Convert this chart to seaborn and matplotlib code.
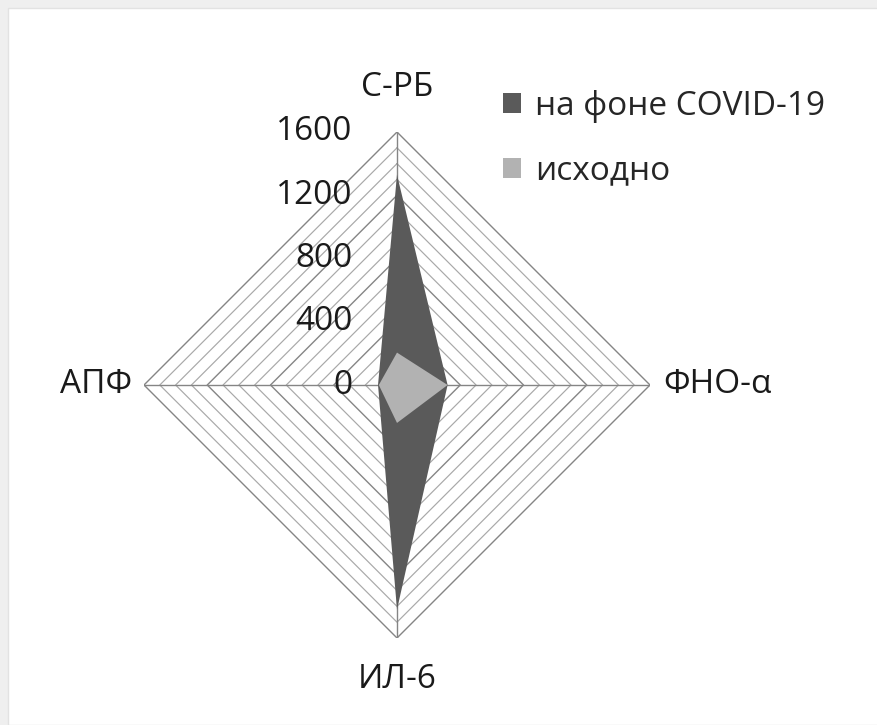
import numpy as np
import matplotlib
matplotlib.use("Agg")
import matplotlib.pyplot as plt
import seaborn as sns

# Indicators on the radar spokes (clockwise from the top)
categories = ["С-РБ", "ФНО-α", "ИЛ-6", "АПФ"]
covid_values = [1330, 320, 1420, 120]
baseline_values = [205, 320, 240, 115]
series_names = ["на фоне COVID-19", "исходно"]
tick_values = [0, 400, 800, 1200, 1600]
ring_values = list(range(100, 1700, 100))

sns.set_theme(style="white")
plt.rcParams["font.family"] = ["Open Sans", "DejaVu Sans"]

dark = "#5a5a5a"
light = "#b2b2b2"
grid_minor = "#a8a8a8"
grid_major = "#858585"
text_col = "#1a1a1a"
fs = 24

W, H = 877, 725
fig = plt.figure(figsize=(W / 100, H / 100), dpi=100)
fig.patch.set_facecolor("#efefef")
fig.patches.append(plt.Rectangle((8 / W, 0), 1, 1 - 8 / H, transform=fig.transFigure,
                                 facecolor="white", edgecolor="#e2e2e2", lw=1, zorder=-5))

R = 253
cx, cy = 397, 385
ax = fig.add_axes([(cx - R) / W, (H - cy - R) / H, 2 * R / W, 2 * R / H],
                  projection="polar")
ax.set_facecolor("none")
ax.set_theta_zero_location("N")
ax.set_theta_direction(-1)
ax.set_ylim(0, 1600)
ax.grid(False)
ax.spines["polar"].set_visible(False)
ax.set_xticks([])
ax.set_yticks([])

angles = np.linspace(0, 2 * np.pi, len(categories), endpoint=False)
closed = np.append(angles, angles[0])

# polygon rings (darker at labelled values) and spokes
for rv in ring_values:
    major = rv in tick_values
    ax.plot(closed, [rv] * len(closed), color=grid_major if major else grid_minor,
            lw=1.0 if major else 0.85, zorder=1)
for a in angles:
    ax.plot([a, a], [0, 1600], color=grid_major, lw=1.0, zorder=1)

# data series
for vals, col, name in [(covid_values, dark, series_names[0]),
                        (baseline_values, light, series_names[1])]:
    v = np.append(vals, vals[0])
    ax.fill(closed, v, color=col, zorder=3, label=name, lw=0)

# radial value labels along the top spoke
for tv in tick_values:
    ax.annotate(str(tv), xy=(0, tv), xytext=(-32, 0), textcoords="offset points",
                ha="right", va="center", fontsize=fs, color=text_col)

# category labels
label_pos = [(cx, 88, "center"), (663, 385, "left"), (cx, 680, "center"), (132, 385, "right")]
for cat, (px, py, ha) in zip(categories, label_pos):
    fig.text(px / W, 1 - py / H, cat, ha=ha, va="center", fontsize=fs, color=text_col)

# legend
handles, labels = ax.get_legend_handles_labels()
fig.legend(handles, labels, loc="upper left", bbox_to_anchor=(503 / W, 1 - 90 / H),
           frameon=False, fontsize=fs, handlelength=0.55, handleheight=0.55,
           handletextpad=0.4, labelspacing=0.95, borderaxespad=0, borderpad=0)

fig.savefig("out.png", dpi=100)
